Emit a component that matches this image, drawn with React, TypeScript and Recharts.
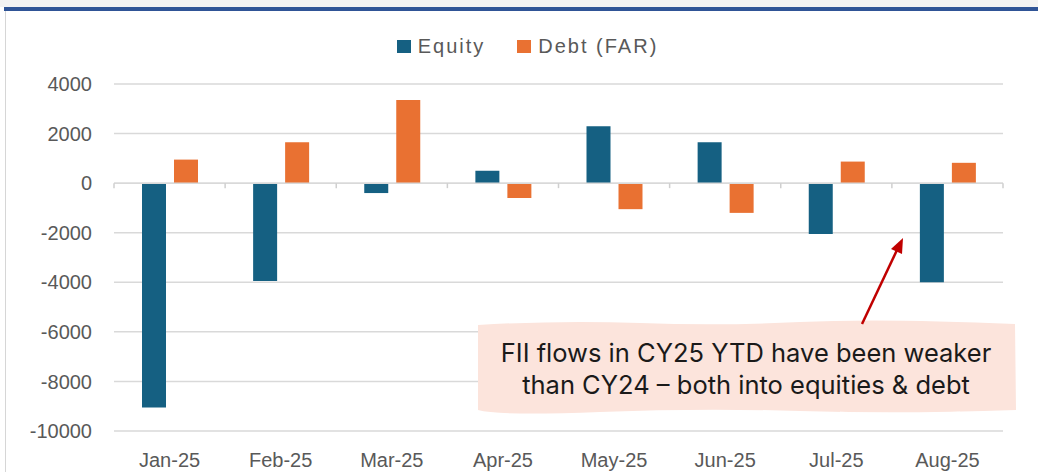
import React from 'react';
import { BarChart, Bar, XAxis, YAxis, CartesianGrid, ReferenceLine, Legend } from 'recharts';

const months = ['Jan-25', 'Feb-25', 'Mar-25', 'Apr-25', 'May-25', 'Jun-25', 'Jul-25', 'Aug-25'];
const equity = [-9050, -3950, -400, 500, 2300, 1650, -2050, -4000];
const debt = [950, 1650, 3350, -600, -1050, -1200, 870, 820];
const yTicks = [-10000, -8000, -6000, -4000, -2000, 0, 2000, 4000];
const seriesNames = ['Equity', 'Debt (FAR)'];
const colors = ['#156082', '#E97132'];
const noteLines = ['FII flows in CY25 YTD have been weaker', 'than CY24 \u2013 both into equities & debt'];

const data = months.map((m, i) => ({ month: m, equity: equity[i], debt: debt[i] }));

const W = 1038;
const H = 472;
const axisFont = '"Liberation Sans", Arial, sans-serif';

const ZeroAxis = (props: any) => {
  const { x1, x2, y1 } = props;
  if (x1 == null || x2 == null || y1 == null) return null;
  const n = months.length;
  const step = (x2 - x1) / n;
  const ticks = [];
  for (let k = 0; k <= n; k++) {
    const x = x1 + step * k;
    ticks.push(<line key={k} x1={x} x2={x} y1={y1} y2={y1 + 5} stroke="#cfcfcf" strokeWidth={1.5} />);
  }
  return (
    <g>
      <line x1={x1} x2={x2} y1={y1} y2={y1} stroke="#d9d9d9" strokeWidth={1.5} />
      {ticks}
    </g>
  );
};

const LegendContent = () => (
  <div style={{ display: 'flex', justifyContent: 'center', paddingLeft: 17, fontFamily: axisFont, fontSize: 20, color: '#595959', letterSpacing: 2 }}>
    {seriesNames.map((name, i) => (
      <div key={name} style={{ display: 'flex', alignItems: 'center', marginLeft: i === 0 ? 0 : 32 }}>
        <span style={{ display: 'inline-block', width: 14, height: 13, background: colors[i], marginRight: 7 }} />
        <span style={{ lineHeight: '20px' }}>{name}</span>
      </div>
    ))}
  </div>
);

export default function App() {
  return (
    <div style={{ position: 'absolute', left: 0, top: 0, width: W, height: H, background: '#ffffff', overflow: 'hidden' }}>
      <div style={{ position: 'absolute', left: 0, top: 0, width: W, height: 7, background: '#f2f2f2' }} />
      <div style={{ position: 'absolute', left: 4, top: 7, width: W - 4, height: 4, background: '#2F5496' }} />
      <div style={{ position: 'absolute', left: 5, top: 11, width: 1, height: H - 11, background: '#d6d6d6' }} />
      <div style={{ position: 'absolute', left: 0, top: 0 }}>
        <BarChart
          width={W}
          height={H}
          data={data}
          margin={{ top: 84, right: 35, bottom: 11, left: 14 }}
          barGap={8}
          barSize={24}
        >
          <CartesianGrid vertical={false} stroke="#d9d9d9" strokeWidth={1.5} />
          <XAxis
            dataKey="month"
            axisLine={false}
            tickLine={false}
            interval={0}
            tickMargin={16}
            tick={{ fill: '#595959', fontSize: 20, fontFamily: axisFont }}
          />
          <YAxis
            domain={[-10000, 4000]}
            ticks={yTicks}
            width={100}
            axisLine={false}
            tickLine={false}
            tickMargin={16}
            interval={0}
            tick={{ fill: '#595959', fontSize: 20, fontFamily: axisFont }}
          />
          <Legend
            layout="horizontal"
            verticalAlign="middle"
            align="center"
            wrapperStyle={{ top: 36, left: 0, width: W }}
            content={LegendContent}
          />
          <ReferenceLine y={0} shape={ZeroAxis} />
          <Bar dataKey="equity" name={seriesNames[0]} fill={colors[0]} isAnimationActive={false} />
          <Bar dataKey="debt" name={seriesNames[1]} fill={colors[1]} isAnimationActive={false} />
        </BarChart>
      </div>
      <svg width={W} height={H} style={{ position: 'absolute', left: 0, top: 0, pointerEvents: 'none' }}>
        <path
          d="M478,325 Q560,320 640,323 T800,322 T1015,324 L1016,410 Q900,414 800,411 T600,412 T478,410 Z"
          fill="#fce4dc"
        />
        <path d="M840,412 Q900,417 960,412" fill="none" stroke="#ffffff" strokeWidth={1} opacity={0.7} />
        <text x={746} y={362} textAnchor="middle" fontFamily='Inter, "Liberation Sans", sans-serif' fontSize={25.5} fill="#1a1a1a">
          {noteLines[0]}
        </text>
        <text x={746} y={394} textAnchor="middle" fontFamily='Inter, "Liberation Sans", sans-serif' fontSize={25.5} fill="#1a1a1a">
          {noteLines[1]}
        </text>
        <line x1={862} y1={324} x2={897} y2={250} stroke="#c00000" strokeWidth={2.5} />
        <polygon points="903,238 902,254 891,249" fill="#c00000" />
      </svg>
    </div>
  );
}
